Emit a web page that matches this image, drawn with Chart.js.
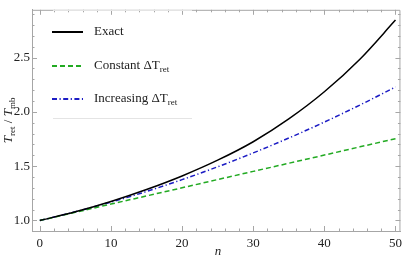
<!DOCTYPE html>
<html>
<head>
<meta charset="utf-8">
<script src="https://cdn.jsdelivr.net/npm/chart.js@4"></script>
<style>
  html, body { margin: 0; padding: 0; background: #fff; }
  #wrap { width: 407px; height: 262px; }
</style>
</head>
<body>
<div id="wrap"><canvas id="chart" width="407" height="262"></canvas></div>
<script>
// values
var nValues = [0, 5, 10, 15, 20, 25, 30, 35, 40, 45, 50];
var exactValues = [1.00, 1.08, 1.175, 1.285, 1.41, 1.555, 1.725, 1.935, 2.185, 2.485, 2.845];
var constantValues = [1.00, 1.075, 1.151, 1.226, 1.301, 1.377, 1.452, 1.527, 1.602, 1.678, 1.753];
var increasingValues = [1.00, 1.08, 1.169, 1.267, 1.376, 1.494, 1.622, 1.759, 1.906, 2.063, 2.229];

var xTicks = [0, 10, 20, 30, 40, 50];
var yTicks = [1.0, 1.5, 2.0, 2.5];
var legendNames = ["Exact", "Constant \u0394T", "Increasing \u0394T"];
var legendSubs = ["", "ret", "ret"];

var SERIF = '"Liberation Serif", "DejaVu Serif", serif';
var FRAME = "#a6a6a6";
var colors = ["#000000", "#22aa22", "#1c1cc4"];
var dashes = [[], [5, 3], [5, 2.5, 1.2, 2.5]];

function toPoints(ys) {
    return nValues.map((n, i) => ({x: n, y: ys[i]}));
}

function makeSet(label, ys, idx) {
    return {
        label: label,
        data: toPoints(ys),
        borderColor: colors[idx],
        borderWidth: 1.5,
        borderDash: dashes[idx],
        pointRadius: 0,
        fill: false,
        cubicInterpolationMode: "monotone"
    };
}

// frame, inward ticks, legend and axis titles
var decorPlugin = {
    id: "decor",
    afterDraw(chart) {
        var ctx = chart.ctx;
        var a = chart.chartArea;
        var xs = chart.scales.x, ys = chart.scales.y;
        ctx.save();
        ctx.strokeStyle = FRAME;
        ctx.lineWidth = 1;
        ctx.beginPath();
        ctx.moveTo(a.left, a.top + 0.5);
        ctx.lineTo(a.right - 0.5, a.top + 0.5);
        ctx.lineTo(a.right - 0.5, a.bottom);
        ctx.stroke();

        ctx.beginPath();
        for (var n = 0; n <= 50; n += 2) {
            var px = Math.round(xs.getPixelForValue(n)) + 0.5;
            var len = (n % 10 === 0) ? 5 : 2.5;
            ctx.moveTo(px, a.bottom); ctx.lineTo(px, a.bottom - len);
            ctx.moveTo(px, a.top); ctx.lineTo(px, a.top + len);
        }
        for (var k = 10; k <= 29; k++) {
            var py = Math.round(ys.getPixelForValue(k / 10)) + 0.5;
            var len2 = (k % 5 === 0) ? 5 : 2.5;
            ctx.moveTo(a.left, py); ctx.lineTo(a.left + len2, py);
            ctx.moveTo(a.right, py); ctx.lineTo(a.right - len2, py);
        }
        ctx.stroke();

        // legend box
        ctx.strokeStyle = "#e4e4e4";
        ctx.beginPath();
        ctx.moveTo(53, 10.5); ctx.lineTo(192, 10.5);
        ctx.moveTo(53, 118.5); ctx.lineTo(192, 118.5);
        ctx.stroke();

        var rows = [32, 66, 99];
        rows.forEach((y, i) => {
            ctx.strokeStyle = colors[i];
            ctx.lineWidth = 2;
            ctx.setLineDash(dashes[i]);
            ctx.beginPath();
            ctx.moveTo(52, y); ctx.lineTo(83, y);
            ctx.stroke();
            ctx.setLineDash([]);
            ctx.fillStyle = "#222";
            ctx.textBaseline = "middle";
            ctx.textAlign = "left";
            ctx.font = "13px " + SERIF;
            ctx.fillText(legendNames[i], 94, y);
            if (legendSubs[i]) {
                var w = ctx.measureText(legendNames[i]).width;
                ctx.font = "9px " + SERIF;
                ctx.fillText(legendSubs[i], 94 + w, y + 4);
            }
        });

        // x title
        ctx.fillStyle = "#222";
        ctx.font = "italic 13px " + SERIF;
        ctx.textAlign = "center";
        ctx.textBaseline = "middle";
        ctx.fillText("n", 218, 252);

        // y title, rotated
        var parts = [
            {t: "T", f: "italic 13px " + SERIF, dy: 0},
            {t: "ret", f: "9px " + SERIF, dy: 4},
            {t: " / ", f: "13px " + SERIF, dy: 0},
            {t: "T", f: "italic 13px " + SERIF, dy: 0},
            {t: "mb", f: "9px " + SERIF, dy: 4}
        ];
        var total = 0;
        parts.forEach(p => { ctx.font = p.f; p.w = ctx.measureText(p.t).width; total += p.w; });
        ctx.translate(9, (a.top + a.bottom) / 2);
        ctx.rotate(-Math.PI / 2);
        ctx.textAlign = "left";
        var cx = -total / 2;
        parts.forEach(p => {
            ctx.font = p.f;
            ctx.fillText(p.t, cx, p.dy);
            cx += p.w;
        });
        ctx.restore();
    }
};

new Chart(document.getElementById("chart"), {
    type: "line",
    data: {
        datasets: [
            makeSet("Exact", exactValues, 0),
            makeSet("Constant", constantValues, 1),
            makeSet("Increasing", increasingValues, 2)
        ]
    },
    options: {
        responsive: false,
        animation: false,
        layout: {padding: {top: 1, right: 2, left: 0, bottom: 0}},
        plugins: {legend: {display: false}, tooltip: {enabled: false}},
        scales: {
            x: {
                type: "linear",
                min: -1.1,
                max: 50.7,
                afterFit: (s) => { s.height = 31; },
                afterBuildTicks: (s) => { s.ticks = xTicks.map(v => ({value: v})); },
                grid: {display: false, drawTicks: false, tickLength: 0},
                border: {display: true, color: FRAME},
                ticks: {
                    color: "#222",
                    padding: 5,
                    font: {family: SERIF, size: 13},
                    callback: (v) => String(v)
                }
            },
            y: {
                type: "linear",
                min: 0.903,
                max: 2.94,
                afterFit: (s) => { s.width = 32; },
                afterBuildTicks: (s) => { s.ticks = yTicks.map(v => ({value: v})); },
                grid: {display: false, drawTicks: false, tickLength: 0},
                border: {display: true, color: FRAME},
                ticks: {
                    color: "#222",
                    padding: 2,
                    font: {family: SERIF, size: 13},
                    callback: (v) => v.toFixed(1)
                }
            }
        }
    },
    plugins: [decorPlugin]
});
</script>
</body>
</html>
